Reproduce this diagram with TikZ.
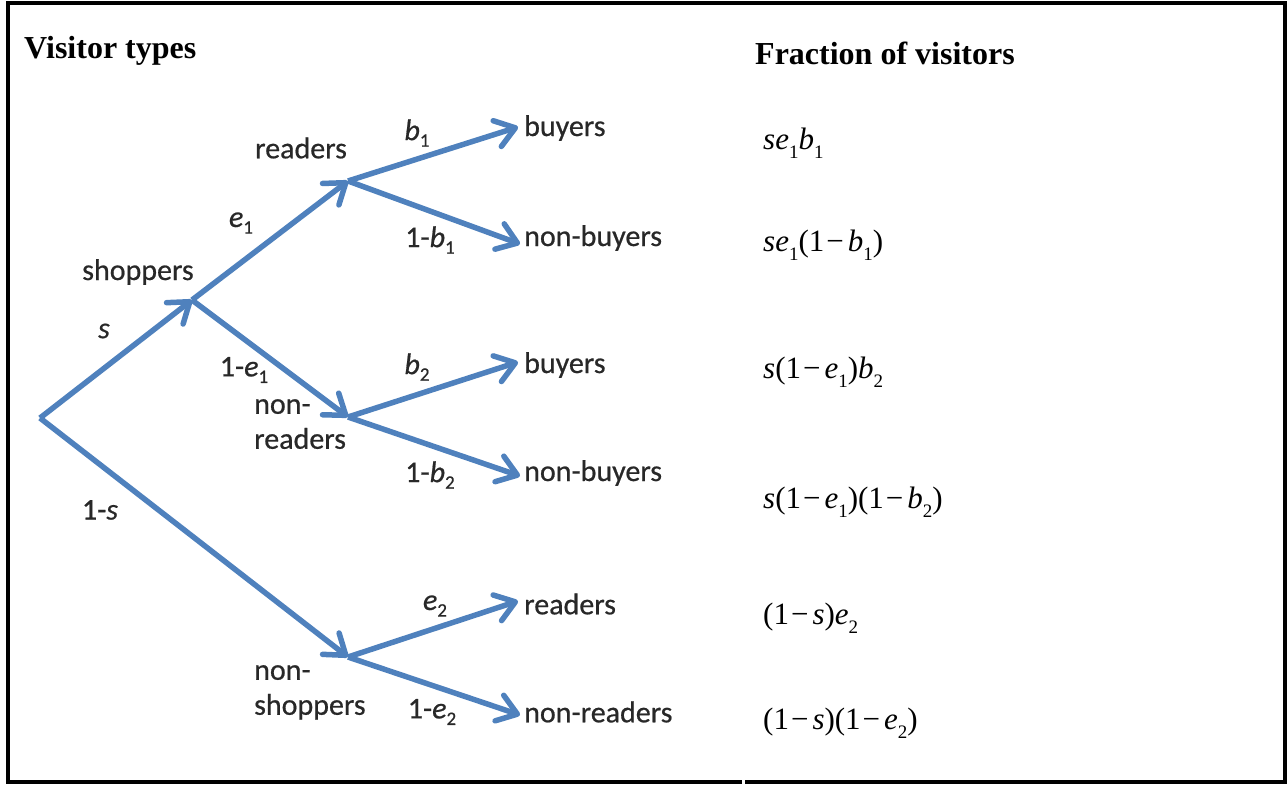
\documentclass[tikz,border=0pt]{standalone}
\usepackage{fontspec}
\setmainfont{Liberation Serif}
\newfontfamily\labfont[FakeBold=0.6]{Carlito}
\usetikzlibrary{arrows.meta}
\definecolor{arrblue}{RGB}{79,129,189}
\definecolor{labgray}{RGB}{40,40,40}
\newcommand{\lsub}[1]{\raisebox{-0.22em}{\fontsize{19}{19}\selectfont #1}}
\newcommand{\msub}[1]{\raisebox{-0.30em}{\fontsize{19}{19}\selectfont #1}}
\newcommand{\mminus}{\kern2pt−\kern4pt}
\begin{document}
\begin{tikzpicture}[x=1pt,y=-1pt,
  arr/.style={draw=arrblue,line width=5.5pt,-{Straight Barb[length=19pt,width=27pt,round]}},
  lab/.style={inner sep=0pt,text=labgray,font=\labfont\fontsize{30}{34}\selectfont},
  leaf/.style={lab,anchor=west},
  two/.style={lab,anchor=north west,align=left,font=\labfont\fontsize{30}{35}\selectfont},
  frm/.style={inner sep=0pt,anchor=west,font=\fontsize{31}{35}\selectfont},
  hdr/.style={inner sep=0pt,anchor=west,font=\bfseries\fontsize{32}{36}\selectfont},
  frameline/.style={line width=4pt,black}]
\useasboundingbox (0,0) rectangle (1288,785);
% frame
\draw[frameline,line join=miter] (742,782) -- (8,782) -- (8,3) -- (1285,3) -- (1285,782) -- (745,782);
% headers
\node[hdr] (h1) at (24,51) {Visitor types};
\node[hdr] (h2) at (755,53) {Fraction of visitors};
% junctions
\coordinate (R) at (40,418);
\coordinate (S) at (192,300);
\coordinate (RD) at (348,181);
\coordinate (NR) at (348,417);
\coordinate (NS) at (348,657);
\coordinate (B1) at (518,127);
\coordinate (NB1) at (520,244);
\coordinate (B2) at (518,362);
\coordinate (NB2) at (520,476);
\coordinate (R3) at (518,601);
\coordinate (NR3) at (520,715);
% connectors
\draw[arr] (R) -- (S);
\draw[arr] (R) -- (NS);
\draw[arr] (S) -- (RD);
\draw[arr] (S) -- (NR);
\draw[arr] (RD) -- (B1);
\draw[arr] (RD) -- (NB1);
\draw[arr] (NR) -- (B2);
\draw[arr] (NR) -- (NB2);
\draw[arr] (NS) -- (R3);
\draw[arr] (NS) -- (NR3);
% branch labels
\node[lab] (ls) at (104,331) {\textit{s}};
\node[lab] (lns) at (100,510) {1-\textit{s}};
\node[lab] (le1) at (241,223) {\textit{e}\lsub{1}};
\node[lab] (lne1) at (244,370) {1-\textit{e}\lsub{1}};
\node[lab] (lb1) at (417,133) {\textit{b}\lsub{1}};
\node[lab] (lnb1) at (430,240) {1-\textit{b}\lsub{1}};
\node[lab] (lb2) at (417,367) {\textit{b}\lsub{2}};
\node[lab] (lnb2) at (430,475) {1-\textit{b}\lsub{2}};
\node[lab] (le2) at (435,606) {\textit{e}\lsub{2}};
\node[lab] (lne2) at (432,712) {1-\textit{e}\lsub{2}};
% state labels
\node[lab] (shop) at (138,272) {shoppers};
\node[lab] (read) at (301,148) {readers};
\node[two] (nread) at (254,399) {non-\\readers};
\node[two] (nshop) at (254,665) {non-\\shoppers};
% leaves
\node[leaf] (t1) at (524,128) {buyers};
\node[leaf] (t2) at (524,238) {non-buyers};
\node[leaf] (t3) at (524,365) {buyers};
\node[leaf] (t4) at (524,473) {non-buyers};
\node[leaf] (t5) at (524,604) {readers};
\node[leaf] (t6) at (524,712) {non-readers};
% fractions
\node[frm] (f1) at (763,143) {\textit{se}\msub{1}\textit{b}\msub{1}};
\node[frm] (f2) at (763,245) {\textit{se}\msub{1}(1\mminus\textit{b}\msub{1})};
\node[frm] (f3) at (763,372) {\textit{s}(1\mminus\textit{e}\msub{1})\textit{b}\msub{2}};
\node[frm] (f4) at (763,502) {\textit{s}(1\mminus\textit{e}\msub{1})(1\mminus\textit{b}\msub{2})};
\node[frm] (f5) at (763,618) {(1\mminus\textit{s})\textit{e}\msub{2}};
\node[frm] (f6) at (763,723) {(1\mminus\textit{s})(1\mminus\textit{e}\msub{2})};
\end{tikzpicture}
\end{document}
